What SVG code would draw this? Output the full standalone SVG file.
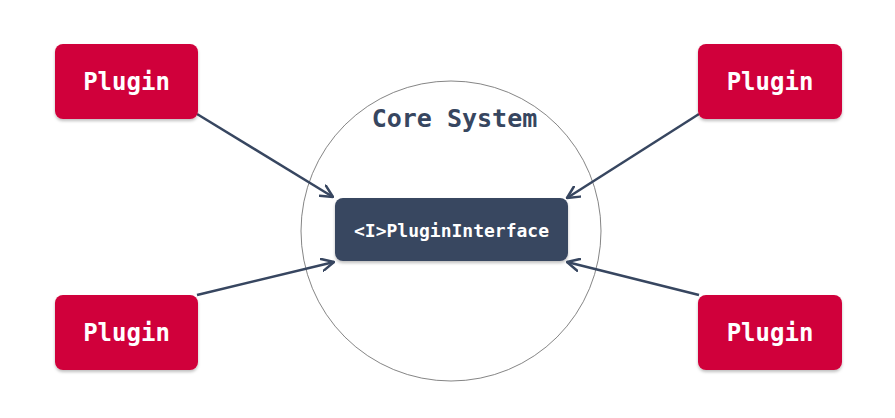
<svg xmlns="http://www.w3.org/2000/svg" width="895" height="418" viewBox="0 0 895 418">
  <defs>
    <marker id="arr" viewBox="0 0 14 14" refX="13" refY="7" markerWidth="14" markerHeight="14" markerUnits="userSpaceOnUse" orient="auto">
      <path d="M1,1 L13,7 L1,13" fill="none" stroke="#374660" stroke-width="2.5" stroke-linecap="round" stroke-linejoin="round"/>
    </marker>
    <filter id="sh" x="-10%" y="-10%" width="120%" height="130%">
      <feDropShadow dx="0" dy="2" stdDeviation="1.5" flood-color="#000" flood-opacity="0.25"/>
    </filter>
  </defs>
  <style>
    .plugin { fill: #d0003a; filter: url(#sh); }
    .ptext { font-family: "DejaVu Sans Mono", "Liberation Mono", monospace; font-weight: bold; font-size: 24px; fill: #ffffff; text-anchor: middle; }
    .conn { stroke: #374660; stroke-width: 2.5; fill: none; marker-end: url(#arr); }
  </style>
  <rect width="895" height="418" fill="#ffffff"/>
  <g id="core">
    <circle cx="451" cy="231" r="150" fill="none" stroke="#666666" stroke-width="0.8"/>
    <text x="454.5" y="127" font-family="DejaVu Sans Mono, Liberation Mono, monospace" font-weight="bold" font-size="25" fill="#374660" text-anchor="middle">Core System</text>
  </g>
  <g id="interface">
    <rect x="335" y="198" width="233" height="63" rx="8" fill="#374660" filter="url(#sh)"/>
    <text x="451.5" y="237" font-family="DejaVu Sans Mono, Liberation Mono, monospace" font-weight="bold" font-size="18" fill="#ffffff" text-anchor="middle">&lt;I&gt;PluginInterface</text>
  </g>
  <g id="connectors">
    <line class="conn" x1="197" y1="114" x2="333" y2="197"/>
    <line class="conn" x1="699" y1="114" x2="567" y2="198"/>
    <line class="conn" x1="197" y1="295" x2="334" y2="262"/>
    <line class="conn" x1="699" y1="295" x2="567" y2="262"/>
  </g>
  <g id="plugin-tl">
    <rect class="plugin" x="55" y="44" width="143" height="75" rx="8"/>
    <text class="ptext" x="126.5" y="90">Plugin</text>
  </g>
  <g id="plugin-tr">
    <rect class="plugin" x="698" y="44" width="144" height="75" rx="8"/>
    <text class="ptext" x="770" y="90">Plugin</text>
  </g>
  <g id="plugin-bl">
    <rect class="plugin" x="55" y="295" width="143" height="75" rx="8"/>
    <text class="ptext" x="126.5" y="341">Plugin</text>
  </g>
  <g id="plugin-br">
    <rect class="plugin" x="698" y="295" width="144" height="75" rx="8"/>
    <text class="ptext" x="770" y="341">Plugin</text>
  </g>
</svg>
